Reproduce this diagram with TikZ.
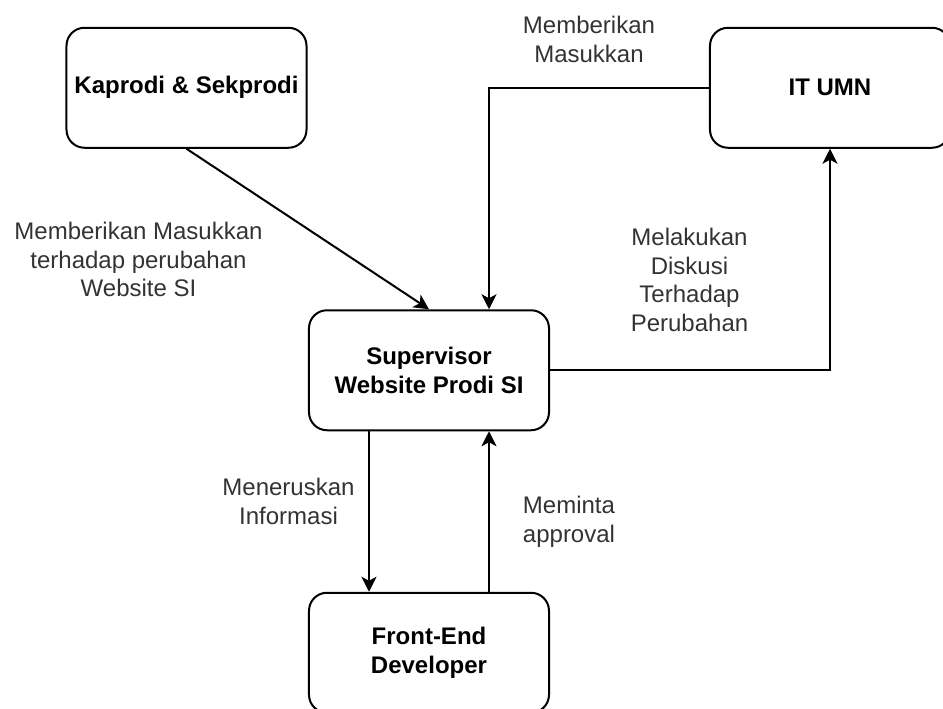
\documentclass[tikz,border=0pt]{standalone}
\usepackage{fontspec}
\setmainfont{Liberation Sans}
\usepackage{xcolor}
\usetikzlibrary{arrows.meta}
\definecolor{labelgray}{HTML}{333333}

\begin{document}
\begin{tikzpicture}[x=1pt,y=-1pt,
	box/.style={draw,line width=2pt,rounded corners=18pt,minimum width=240pt,minimum height=120pt,inner sep=0pt,align=center,font=\fontsize{24}{28.8}\selectfont\bfseries},
	lbl/.style={inner sep=0pt,align=center,text=labelgray,font=\fontsize{24}{28.8}\selectfont},
	flow/.style={line width=2pt,-{Stealth[length=15pt,width=15pt,inset=4pt]}},
	elbow/.style={to path={-| (\tikztotarget)}}]
			\clip (0,0) rectangle (943,709);
			\matrix (m) [column sep=0.5pt,row sep=160.5pt] at (508.25,370.25)
			{
				\node[box] (kap) {Kaprodi \& Sekprodi}; & & [158.5pt] \node[box] (it) {IT UMN}; \\
				& \node[box] (sup) {Supervisor\\Website Prodi SI}; & \\
				& \node[box] (fe) {Front-End\\Developer}; & \\};
			\path[flow]
			(kap.south) edge (sup.north)
			(it.west) edge[elbow] ([xshift=60pt]sup.north)
			(sup.east) edge[elbow] (it.south)
			([xshift=-60pt]sup.south) edge ([xshift=-60pt]fe.north)
			([xshift=60pt]fe.north) edge ([xshift=60pt]sup.south)
			;
			\node[lbl] (l-kap) at (138.5,259.5) {Memberikan Masukkan\\terhadap perubahan\\Website SI};
			\node[lbl] (l-it) at (589,39.5) {Memberikan\\Masukkan};
			\node[lbl] (l-disk) at (689.5,280) {Melakukan\\Diskusi\\Terhadap\\Perubahan};
			\node[lbl] (l-info) at (288.5,501.5) {Meneruskan\\Informasi};
			\node[lbl] (l-appr) at (569,521.5) {Meminta\\approval};
		\end{tikzpicture}
\end{document}
